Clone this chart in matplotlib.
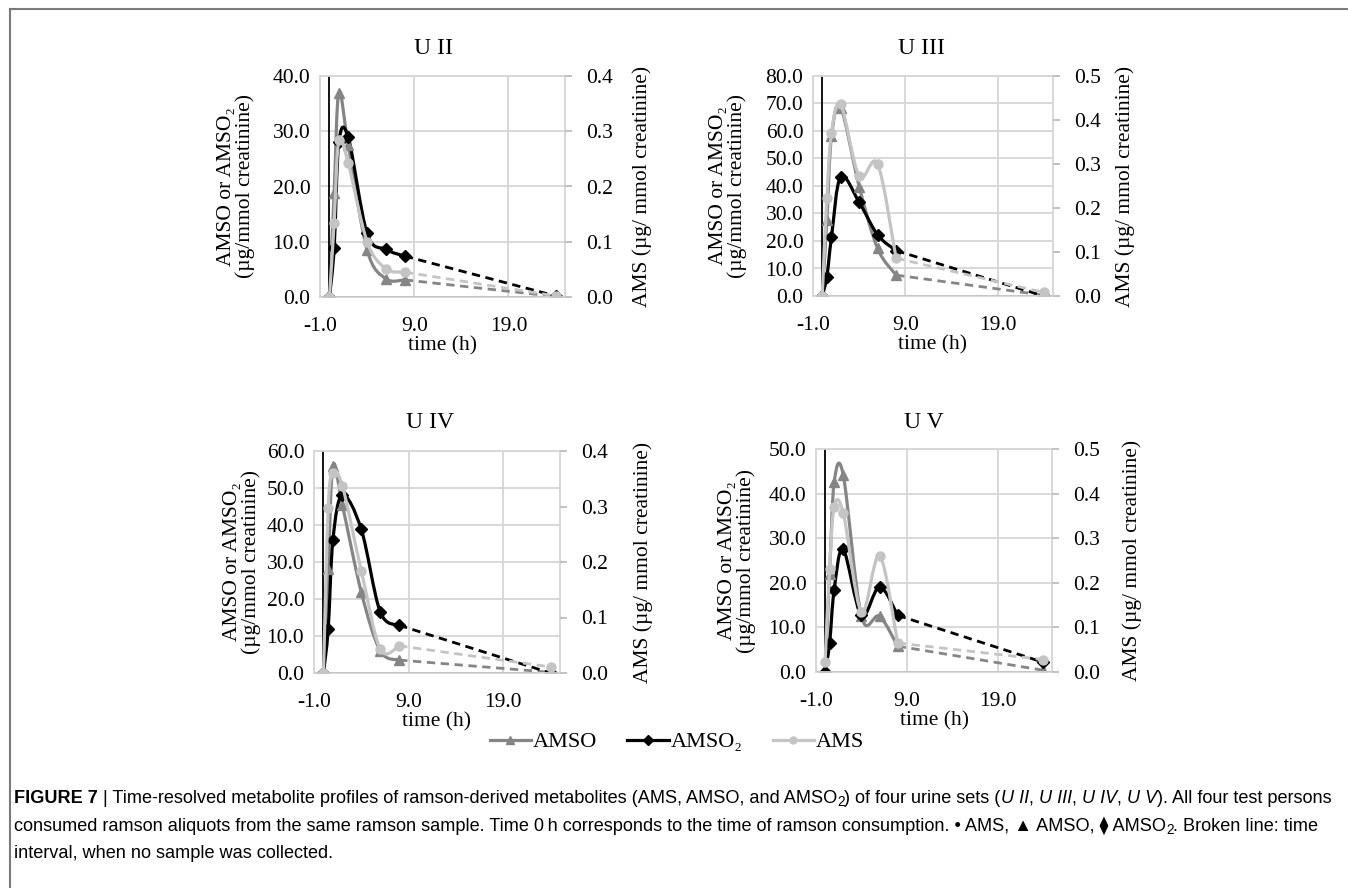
import numpy as np
import matplotlib
matplotlib.use("Agg")
import matplotlib.pyplot as plt
from matplotlib.path import Path
from matplotlib.patches import PathPatch
from matplotlib.lines import Line2D
from matplotlib.ticker import FormatStrFormatter, MultipleLocator

plt.rcParams['font.family'] = ['Liberation Serif', 'DejaVu Serif']

# sampling times (h) and read-off values per urine set
time_h = [0, 0.5, 1, 2, 4, 6, 8, 24]

u2_amso = [0, 18.9, 37.0, 27.5, 8.5, 3.3, 3.1, 0.1]
u2_amso2 = [0, 8.8, 28.0, 28.9, 11.5, 8.6, 7.4, 0.2]
u2_ams = [0, 0.134, 0.284, 0.242, 0.100, 0.051, 0.045, 0.002]

u3_amso = [0, 27.6, 58.0, 68.5, 39.8, 17.3, 7.6, 0.3]
u3_amso2 = [0, 7.0, 21.3, 43.4, 34.1, 22.2, 16.5, 0.0]
u3_ams = [0, 0.222, 0.370, 0.436, 0.272, 0.300, 0.086, 0.008]

u4_amso = [0, 28.0, 56.0, 45.4, 21.8, 6.0, 3.5, 0.2]
u4_amso2 = [0, 11.9, 36.0, 48.1, 38.8, 16.5, 12.9, 0.0]
u4_ams = [0, 0.297, 0.360, 0.337, 0.184, 0.043, 0.049, 0.011]

u5_amso = [0, 22.0, 42.5, 44.2, 12.5, 12.5, 5.8, 0.4]
u5_amso2 = [0, 6.5, 18.4, 27.5, 12.7, 19.1, 12.7, 2.2]
u5_ams = [0.022, 0.232, 0.371, 0.357, 0.135, 0.261, 0.065, 0.028]

x_ticks = [-1, 9, 19]

W, H = 1348, 888
C_AMSO = '#858585'
C_AMSO2 = 'black'
C_AMS = '#c4c4c4'
GRID = '#d6d6d6'
FS = 15.5

fig = plt.figure(figsize=(W / 100, H / 100), dpi=100)


def smooth_path(x, y):
    """Excel-like smoothed line as cubic Bezier path"""
    pts = np.column_stack([x, y]).astype(float)
    n = len(pts)
    verts = [pts[0]]
    codes = [Path.MOVETO]
    for i in range(n - 1):
        p0 = pts[i - 1] if i > 0 else pts[i]
        p1 = pts[i]
        p2 = pts[i + 1]
        p3 = pts[i + 2] if i + 2 < n else pts[i + 1]
        verts += [p1 + (p2 - p0) / 6, p2 - (p3 - p1) / 6, p2]
        codes += [Path.CURVE4] * 3
    return Path(verts, codes)


def draw_series(ax, vals, color, marker, ms):
    # solid smoothed part up to 8 h, broken line to 24 h
    ax.add_patch(PathPatch(smooth_path(time_h[:-1], vals[:-1]), fill=False,
                           edgecolor=color, lw=2.3, joinstyle='round', capstyle='round'))
    ax.plot(time_h[-2:], vals[-2:], color=color, lw=2.0, ls=(0, (3, 2)))
    ax.plot(time_h, vals, ls='none', marker=marker, ms=ms, color=color)


def draw_panel(box, title, title_xy, ylab_x, y2lab_x, amso, amso2, ams, ymax, y2max):
    l, r, t, b = box
    ax = fig.add_axes([l / W, 1 - b / H, (r - l) / W, (b - t) / H])
    ax.set_xlim(-1, 25)
    ax.set_ylim(0, ymax)
    ax.set_xticks(x_ticks)
    ax.yaxis.set_major_locator(MultipleLocator(10))
    ax.xaxis.set_major_formatter(FormatStrFormatter('%.1f'))
    ax.yaxis.set_major_formatter(FormatStrFormatter('%.1f'))
    ax.grid(True, color=GRID, lw=1.3)
    ax.set_axisbelow(True)
    for s in ax.spines.values():
        s.set_color(GRID)
        s.set_linewidth(1.3)
    ax.tick_params(length=0, labelsize=FS, pad=7)
    ax.tick_params(axis='x', pad=14.5)
    ax.axvline(0, color='black', lw=1.3, zorder=1.5)
    ax.axhline(0, color='black', lw=1.8, zorder=1.5)

    draw_series(ax, amso, C_AMSO, '^', 7)
    draw_series(ax, amso2, C_AMSO2, 'D', 6)

    ax2 = ax.twinx()
    ax2.set_ylim(0, y2max)
    ax2.yaxis.set_major_locator(MultipleLocator(0.1))
    ax2.yaxis.set_major_formatter(FormatStrFormatter('%.1f'))
    for s in ax2.spines.values():
        s.set_visible(False)
    ax2.tick_params(axis='y', length=5, width=1.3, color='#bdbdbd', labelsize=FS, pad=10)
    draw_series(ax2, ams, C_AMS, 'o', 6.5)

    ax.set_xlabel('time (h)', fontsize=FS, labelpad=0)
    fig.text(title_xy[0] / W, 1 - title_xy[1] / H, title, fontsize=17,
             ha='center', va='center')
    cy = 1 - (t + b) / 2 / H
    fig.text(ylab_x / W, cy, 'AMSO or AMSO\u2082\n(\u00b5g/mmol creatinine)', fontsize=FS,
             rotation=90, ha='center', va='center', linespacing=0.95, multialignment='center')
    fig.text(y2lab_x / W, cy, 'AMS (\u00b5g/ mmol creatinine)', fontsize=FS,
             rotation=90, ha='center', va='center')


draw_panel((320, 565, 76, 297), 'U II', (434, 48), 236, 642, u2_amso, u2_amso2, u2_ams, 40, 0.4)
draw_panel((813, 1053, 76, 296), 'U III', (922, 48), 728, 1125, u3_amso, u3_amso2, u3_ams, 80, 0.5)
draw_panel((314, 560, 451, 673), 'U IV', (430, 423), 242, 643, u4_amso, u4_amso2, u4_ams, 60, 0.4)
draw_panel((816, 1052, 449, 672), 'U V', (924, 423), 737, 1132, u5_amso, u5_amso2, u5_ams, 50, 0.5)

handles = [
    Line2D([], [], color=C_AMSO, lw=2.3, marker='^', ms=6),
    Line2D([], [], color=C_AMSO2, lw=2.3, marker='D', ms=5),
    Line2D([], [], color=C_AMS, lw=2.3, marker='o', ms=5),
]
fig.legend(handles, ['AMSO', 'AMSO\u2082', 'AMS'], loc='center', ncol=3,
           bbox_to_anchor=(677 / W, 1 - 742 / H), frameon=False, fontsize=16,
           handlelength=1.85, handletextpad=0.1, columnspacing=1.35)

# outer frame (top and left only)
fig.add_artist(Line2D([9.5 / W, 1], [1 - 9.5 / H, 1 - 9.5 / H], color='#7a7a7a', lw=1.5))
fig.add_artist(Line2D([9.5 / W, 9.5 / W], [0, 1 - 9.5 / H], color='#7a7a7a', lw=1.5))

# caption with mixed styles
renderer = fig.canvas.get_renderer()
cap_family = ['Liberation Sans', 'DejaVu Sans']
cap_size = 13.1


def caption_line(y_px, parts):
    x = 14 / W
    for txt, style in parts:
        kw = dict(fontsize=cap_size, family=cap_family, va='baseline', ha='left')
        yy = 1 - y_px / H
        if style == 'bold':
            kw['fontweight'] = 'bold'
        elif style == 'italic':
            kw['fontstyle'] = 'italic'
        elif style == 'sub':
            kw['fontsize'] = cap_size * 0.75
            yy -= 3 / H
        t = fig.text(x, yy, txt, **kw)
        x += t.get_window_extent(renderer).width / W


caption_line(803, [('FIGURE 7', 'bold'), (' | Time-resolved metabolite profiles of ramson-derived metabolites (AMS, AMSO, and AMSO', 'n'),
                   ('2', 'sub'), (') of four urine sets (', 'n'), ('U II', 'italic'), (', ', 'n'), ('U III', 'italic'),
                   (', ', 'n'), ('U IV', 'italic'), (', ', 'n'), ('U V', 'italic'), ('). All four test persons', 'n')])
caption_line(831, [('consumed ramson aliquots from the same ramson sample. Time 0\u2009h corresponds to the time of ramson consumption. '
                    '\u2022 AMS, \u25b2 AMSO, \u29eb AMSO', 'n'), ('2', 'sub'), ('. Broken line: time', 'n')])
caption_line(858, [('interval, when no sample was collected.', 'n')])

fig.savefig('out.png', dpi=100)
